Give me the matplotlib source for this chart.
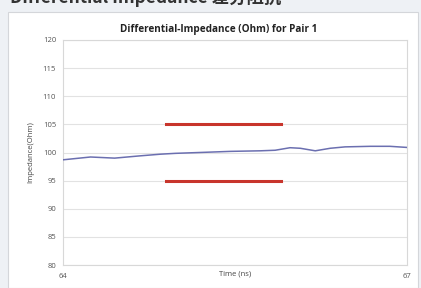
import matplotlib.pyplot as plt
from matplotlib.patches import Rectangle

# impedance trace
time_ns = [64.00, 64.24, 64.45, 64.67, 64.85, 64.98, 65.19, 65.46, 65.72, 65.85,
           65.98, 66.07, 66.20, 66.33, 66.46, 66.68, 66.85, 67.00]
impedance = [98.7, 99.2, 99.0, 99.4, 99.7, 99.85, 100.0, 100.2, 100.3, 100.4,
             100.85, 100.75, 100.3, 100.75, 101.0, 101.1, 101.1, 100.9]

# spec limits
limit_start, limit_end = 64.9, 65.9
limit_upper, limit_lower = 105, 95

y_ticks = [80, 85, 90, 95, 100, 105, 110, 115, 120]
x_ticks = [64, 67]

plt.rcParams["font.family"] = ["Open Sans", "DejaVu Sans"]

fig = plt.figure(figsize=(4.21, 2.88), dpi=100)
fig.patch.set_facecolor("#eef1f5")

# white panel behind the chart
fig.patches.append(Rectangle((8 / 421, 0), 410 / 421, 1 - 12 / 288,
                             transform=fig.transFigure, facecolor="white",
                             edgecolor="#d4d6da", linewidth=0.8, zorder=-5))

# header, cut off at the top of the screenshot like the original
fig.text(10 / 421, 1 - 3 / 288, "Differential Impedance 差分阻抗",
         fontsize=12.5, fontweight="bold", color="#333333", va="baseline",
         family=["Noto Sans CJK SC", "DejaVu Sans"])

ax = fig.add_axes([63 / 421, 1 - 265 / 288, 344 / 421, 225 / 288])
ax.set_zorder(5)
ax.plot(time_ns, impedance, color="#6b6fb0", linewidth=1.1, zorder=3)
ax.plot([limit_start, limit_end], [limit_upper, limit_upper], color="#c8352c", linewidth=2.2, zorder=4)
ax.plot([limit_start, limit_end], [limit_lower, limit_lower], color="#c8352c", linewidth=2.2, zorder=4)

ax.set_xlim(64, 67)
ax.set_ylim(80, 120)
ax.set_yticks(y_ticks)
ax.set_xticks(x_ticks)
ax.grid(axis="y", color="#e2e2e2", linewidth=0.8)
ax.set_axisbelow(True)
for s in ax.spines.values():
    s.set_color("#d8d8d8")
    s.set_linewidth(0.8)
ax.tick_params(length=0, labelsize=5.5, labelcolor="#555555")
ax.tick_params(axis="x", pad=6)
ax.tick_params(axis="y", pad=5)

ax.set_title("Differential-Impedance (Ohm) for Pair 1", fontsize=7.2,
             fontweight="bold", color="#222222", pad=6, x=0.453)
ax.set_xlabel("Time (ns)", fontsize=5.5, color="#444444", labelpad=-7)
ax.set_ylabel("Impedance(Ohm)", fontsize=5.5, color="#444444", labelpad=6)

fig.savefig("out.png", dpi=100, facecolor=fig.get_facecolor())
